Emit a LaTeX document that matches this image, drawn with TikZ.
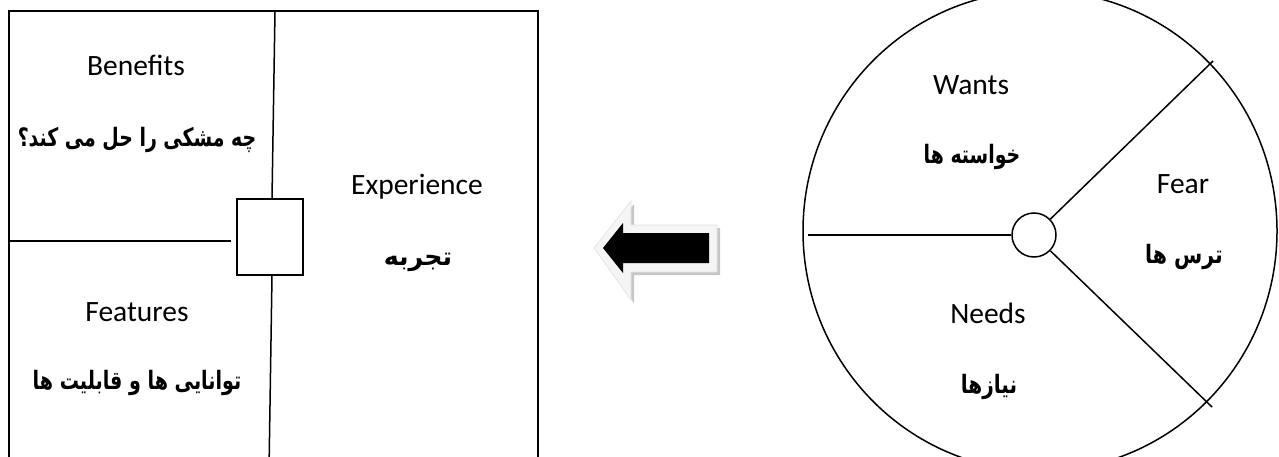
\documentclass[tikz,border=0pt]{standalone}
\usepackage{fontspec}
\setmainfont{Carlito}
\newfontfamily\fafont[Script=Arabic]{DejaVu Sans}
\TeXXeTstate=1
\newcommand\fatext[2][1]{\scalebox{#1}[1.3]{\beginR #2\endR}}
\begin{document}
\begin{tikzpicture}[x=1pt,y=-1pt,
  en/.style={font=\fontsize{29.5}{32}\selectfont, inner sep=0pt},
  fa/.style={font=\fafont\bfseries\fontsize{19.5}{24}\selectfont, inner sep=0pt},
  ln/.style={line width=1.5pt},
]
\useasboundingbox (0,0) rectangle (1279,457);
\clip (0,0) rectangle (1279,457);
% left frame
\draw[ln] (9,470) -- (9,11) -- (538,11) -- (538,470);
\node[draw, ln, fill=white, minimum width=66pt, minimum height=76pt, inner sep=0pt] (sq) at (270,237) {};
\coordinate (vtop) at (275,11);
\coordinate (vbot) at (269,470);
\coordinate (hl) at (9,241);
\draw[ln] (vtop) -- ([xshift=2pt]sq.north);
\draw[ln] ([xshift=2pt]sq.south) -- (vbot);
\draw[ln] (hl) -- ([xshift=-5pt,yshift=-4pt]sq.west);
% left texts
\node[en] (ben) at (136,65) {Benefits};
\node[fa] (benfa) at (137,140) {\fatext[0.97]{چه مشکی را حل می کند؟}};
\node[en] (fea) at (137,312) {Features};
\node[fa] (feafa) at (137,383) {\fatext[0.98]{توانایی ها و قابلیت ها}};
\node[en] (exp) at (417,187) {Experience};
\node[fa] (expfa) at (418,262) {\fatext[1.3]{تجربه}};
% arrow
\fill[gray!45, shift={(3pt,-3pt)}] (594,248) -- (631,201) -- (631,225) -- (717,225) -- (717,272) -- (631,272) -- (631,300) -- cycle;
\fill[gray!8, draw=gray!25, line width=0.6pt] (594,248) -- (631,201) -- (631,225) -- (717,225) -- (717,272) -- (631,272) -- (631,300) -- cycle;
\fill[black] (603,248) -- (623,223) -- (623,233) -- (709,233) -- (709,263) -- (623,263) -- (623,273) -- cycle;
% wheel
\draw[ln] (1040,231) ellipse [x radius=237, y radius=240];
\node[draw, ln, circle, minimum size=44pt, inner sep=0pt] (hub) at (1034,235) {};
\coordinate (wl) at (808,235);
\coordinate (ur) at (1213,61);
\coordinate (lr) at (1212,407);
\draw[ln] (hub) -- (wl);
\draw[ln] (hub) -- (ur);
\draw[ln] (hub) -- (lr);
\node[en] (wan) at (971,85) {Wants};
\node[fa] (wanfa) at (972,157) {\fatext[0.97]{خواسته ها}};
\node[en] (fear) at (1183,184) {Fear};
\node[fa] (fearfa) at (1184,257) {\fatext[1.05]{ترس ها}};
\node[en] (need) at (988,313) {Needs};
\node[fa] (needfa) at (989,387) {\fatext[1.03]{نیازها}};
\end{tikzpicture}
\end{document}
